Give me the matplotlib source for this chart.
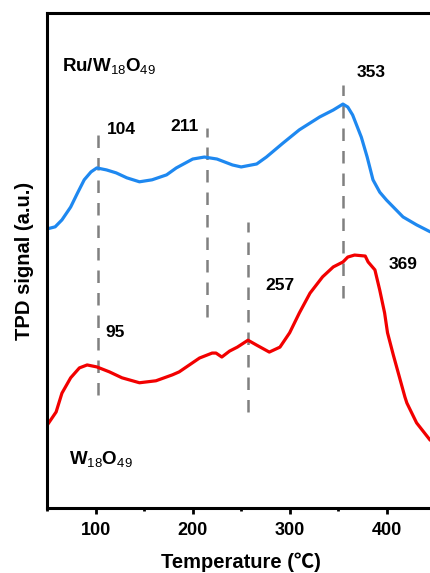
import matplotlib
matplotlib.use("Agg")
import matplotlib.pyplot as plt
from matplotlib.ticker import MultipleLocator

plt.rcParams['font.family'] = ['Liberation Sans', 'Noto Sans CJK SC', 'DejaVu Sans']
plt.rcParams['mathtext.fontset'] = 'custom'
plt.rcParams['mathtext.rm'] = 'Liberation Sans'
plt.rcParams['mathtext.it'] = 'Liberation Sans'
plt.rcParams['mathtext.bf'] = 'Liberation Sans:bold'

# Ru/W18O49 TPD trace (temperature in degC, signal in arbitrary units)
ru_temp = [50, 58, 65, 74, 81, 88, 95, 101, 111, 121, 132, 145, 158, 173, 183,
           200, 212, 225, 241, 250, 266, 276, 293, 310, 331, 345, 355, 360, 365,
           374, 380, 386, 393, 400, 407, 417, 431, 445]
ru_signal = [56.4, 56.8, 58.2, 60.8, 63.6, 66.3, 67.9, 68.7, 68.3, 67.7, 66.7,
             65.9, 66.3, 67.3, 68.7, 70.5, 70.9, 70.5, 69.3, 68.9, 69.5, 70.9,
             73.7, 76.4, 79.0, 80.4, 81.6, 81.0, 79.4, 74.9, 70.9, 66.3, 63.8,
             62.2, 60.8, 58.8, 57.2, 55.8]

# W18O49 TPD trace
w_temp = [50, 59, 65, 74, 83, 91, 101, 114, 127, 145, 162, 179, 186, 207, 220,
          224, 230, 238, 246, 257, 266, 279, 290, 300, 310, 321, 334, 345, 355,
          360, 367, 378, 381, 388, 393, 398, 401, 407, 419, 421, 431, 445]
w_signal = [16.8, 19.4, 23.2, 26.3, 28.3, 28.9, 28.5, 27.5, 26.3, 25.3, 25.7,
            26.9, 27.5, 30.3, 31.3, 31.3, 30.5, 31.7, 32.5, 33.9, 32.9, 31.5,
            32.5, 35.4, 39.4, 43.4, 46.7, 48.7, 49.7, 50.7, 51.1, 50.9, 49.7,
            48.1, 44.0, 39.4, 35.4, 30.9, 22.4, 21.2, 17.2, 13.7]

# Peak marker lines: (temperature, lower signal, upper signal)
marker_temp = [102, 215, 257, 355]
marker_low = [22.8, 38.6, 19.4, 42.4]
marker_high = [76.8, 76.8, 57.8, 85.5]

# Peak annotations: (text, temperature, signal)
peak_text = ["104", "211", "353", "95", "257", "369"]
peak_temp = [111, 191, 384, 120, 290, 417]
peak_signal = [76.4, 77.0, 87.9, 35.4, 45.0, 49.1]
peak_ha = ["left", "center", "center", "center", "center", "center"]

fig = plt.figure(figsize=(4.31, 5.73), dpi=100)
ax = fig.add_axes([47.4 / 431, 65 / 573, 387.6 / 431, 495 / 573])

for t, lo, hi in zip(marker_temp, marker_low, marker_high):
    ax.plot([t, t], [lo, hi], color='#808080', lw=1.8, dashes=(5, 4), zorder=1)

ax.plot(ru_temp, ru_signal, color='#1E88F0', lw=2.3, solid_joinstyle='round',
        solid_capstyle='round', zorder=2)
ax.plot(w_temp, w_signal, color='#F20000', lw=2.3, solid_joinstyle='round',
        solid_capstyle='round', zorder=2)

for txt, t, s, ha in zip(peak_text, peak_temp, peak_signal, peak_ha):
    ax.text(t, s, txt, ha=ha, va='center', fontsize=12.5, fontweight='bold')

ax.text(65, 89.3, r'Ru/W$_{18}$O$_{49}$', ha='left', va='center',
        fontsize=13.5, fontweight='bold')
ax.text(72, 9.8, r'W$_{18}$O$_{49}$', ha='left', va='center',
        fontsize=13.5, fontweight='bold')

ax.set_xlim(50, 450)
ax.set_ylim(0, 100)
ax.xaxis.set_major_locator(MultipleLocator(100))
ax.xaxis.set_minor_locator(MultipleLocator(50))
ax.set_yticks([])
ax.tick_params(axis='x', which='major', direction='out', length=4, width=2,
               labelsize=13, pad=6)
ax.tick_params(axis='x', which='minor', direction='out', length=2.5, width=2)
for lbl in ax.get_xticklabels():
    lbl.set_fontweight('bold')
for sp in ax.spines.values():
    sp.set_linewidth(2.2)

ax.set_xlabel('Temperature (℃)', fontsize=14.5, fontweight='bold', labelpad=10)
ax.set_ylabel('TPD signal (a.u.)', fontsize=14.5, fontweight='bold', labelpad=10)

fig.savefig('out.png', dpi=100)
